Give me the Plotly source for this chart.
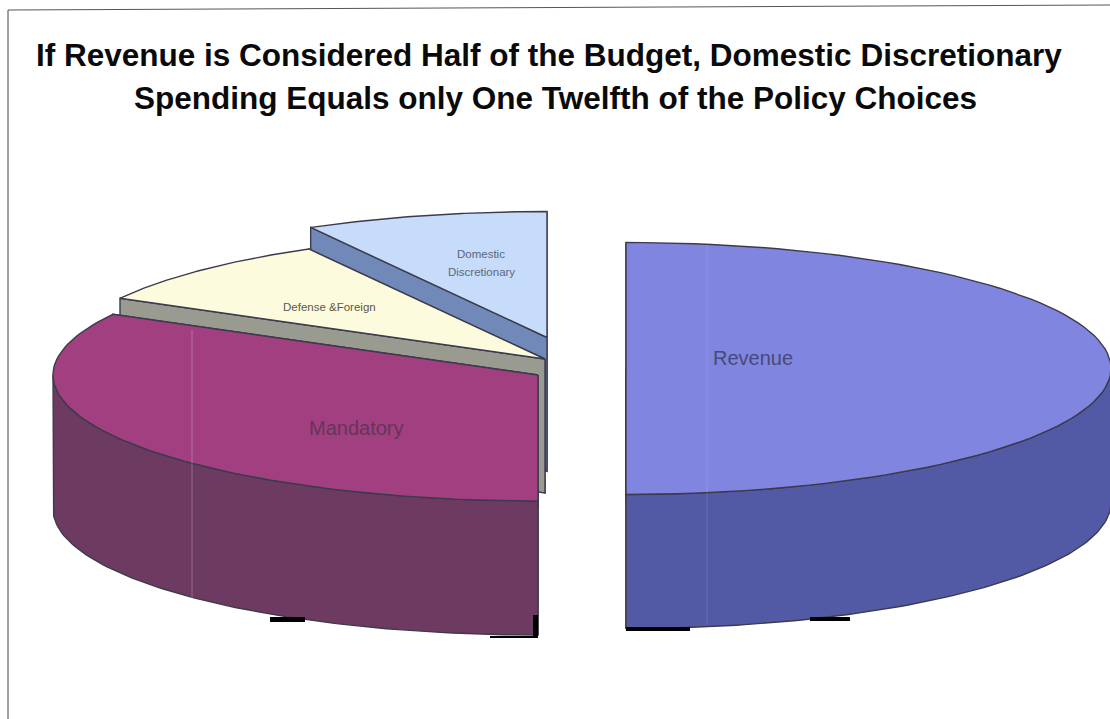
import numpy as np
import plotly.graph_objects as go

# Budget shares, percent
categories = ["Revenue", "Mandatory", "Defense &Foreign", "Domestic Discretionary"]
shares = [50.0, 33.0, 8.9, 8.1]

# Slice styling and pull-out anchors, same order as categories
top_colors = ["#8085e0", "#a23f81", "#fdfbdd", "#c6dcfa"]
side_colors = ["#525aa6", "#6d3a62", "#999a90", "#7189b9"]
anchor_x = [626, 538, 545, 547]
anchor_y = [368.5, 375, 359, 337.5]

RX, RY, DEPTH = 485, 126, 134
EDGE = "#3b3b4c"
W, H = 1110, 719

ends = np.cumsum(shares) * 3.6
starts = ends - np.array(shares) * 3.6


def rim(cx, cy, a0, a1, n=90):
    """Points on the ellipse, angles clockwise from north in degrees."""
    t = np.radians(np.linspace(a0, a1, n))
    return cx + RX * np.sin(t), cy - RY * np.cos(t)


def face(xs, ys, color, name):
    return go.Scatter(
        x=np.append(xs, xs[0]), y=np.append(ys, ys[0]), mode="lines", fill="toself",
        fillcolor=color, line=dict(color=EDGE, width=1.4), hoverinfo="skip",
        name=name, showlegend=False,
    )


def slice_faces(i):
    cx, cy = anchor_x[i], anchor_y[i]
    a0, a1 = starts[i], ends[i]
    out = []
    # radial cut faces, the far one first
    for a in (a1, a0):
        ex, ey = rim(cx, cy, a, a, 1)
        out.append(face(np.array([cx, ex[0], ex[0], cx]),
                        np.array([cy, ey[0], ey[0] + DEPTH, cy + DEPTH]),
                        side_colors[i], categories[i]))
    # outer wall on the part of the rim that faces the viewer
    lo, hi = max(a0, 90), min(a1, 270)
    if hi > lo:
        wx, wy = rim(cx, cy, lo, hi)
        out.append(face(np.concatenate([wx, wx[::-1]]),
                        np.concatenate([wy, wy[::-1] + DEPTH]),
                        side_colors[i], categories[i]))
    # top surface
    tx, ty = rim(cx, cy, a0, a1)
    out.append(face(np.concatenate([[cx], tx]), np.concatenate([[cy], ty]),
                    top_colors[i], categories[i]))
    return out


fig = go.Figure()
# back slices first so nearer ones overlap them
for idx in (3, 2, 1, 0):
    fig.add_traces(slice_faces(idx))


def label(text, x, y, size, color):
    return dict(text=text, x=x, y=y, xref="x", yref="y", showarrow=False,
                font=dict(family="Liberation Sans, Arial, sans-serif", size=size, color=color))


title_font = dict(family="Liberation Sans, Arial, sans-serif", size=31.5, color="#0a0a0a")
annotations = [
    dict(text="<b>If Revenue is Considered Half of the Budget, Domestic Discretionary</b>",
         x=549, y=55, xref="x", yref="y", showarrow=False, font=title_font),
    dict(text="<b>Spending Equals only One Twelfth of the Policy Choices</b>",
         x=555, y=98, xref="x", yref="y", showarrow=False, font=title_font),
    label("Revenue", 753, 358, 20, "#474a78"),
    label("Mandatory", 356, 428, 20, "#63365a"),
    label("Defense &Foreign", 329, 307, 11.5, "#5a5a50"),
    label("Domestic", 481, 254, 11.5, "#5c667f"),
    label("Discretionary", 481, 272, 11.5, "#5c667f"),
]

shapes = [
    # sheet edge
    dict(type="line", x0=8, y0=10, x1=8, y1=719, line=dict(color="#444444", width=1)),
    dict(type="line", x0=8, y0=10, x1=1110, y1=5, line=dict(color="#555555", width=1)),
    # faint vertical streaks across the solid
    dict(type="line", x0=192, y0=330, x1=192, y1=605, line=dict(color="white", width=1), opacity=0.25),
    dict(type="line", x0=707, y0=245, x1=707, y1=625, line=dict(color="white", width=1), opacity=0.12),
    # dark toner marks along the base
    dict(type="rect", x0=270, y0=617, x1=305, y1=622, fillcolor="black", line_width=0),
    dict(type="rect", x0=533, y0=615, x1=538, y1=638, fillcolor="black", line_width=0),
    dict(type="rect", x0=490, y0=636, x1=538, y1=638, fillcolor="black", line_width=0),
    dict(type="rect", x0=626, y0=627, x1=690, y1=631, fillcolor="black", line_width=0),
    dict(type="rect", x0=810, y0=617, x1=850, y1=621, fillcolor="black", line_width=0),
]

fig.update_layout(
    width=W, height=H, margin=dict(l=0, r=0, t=0, b=0),
    paper_bgcolor="white", plot_bgcolor="white", showlegend=False,
    xaxis=dict(range=[0, W], visible=False, fixedrange=True),
    yaxis=dict(range=[H, 0], visible=False, fixedrange=True),
    annotations=annotations, shapes=shapes,
)

fig.write_html("out.html", config=dict(displayModeBar=False))
